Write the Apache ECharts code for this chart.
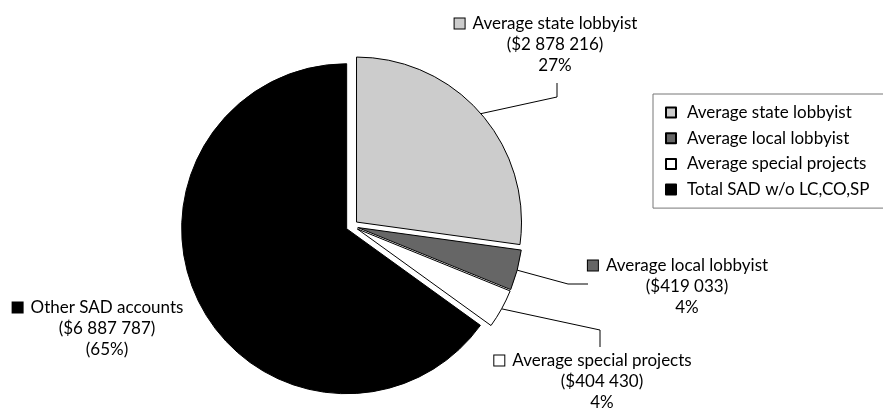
<!DOCTYPE html>
<html>
<head>
<meta charset="utf-8">
<script src="https://cdn.jsdelivr.net/npm/echarts@6/dist/echarts.min.js"></script>
<style>
  html, body { margin: 0; padding: 0; background: #fff; }
  #chart { width: 883px; height: 409px; }
</style>
</head>
<body>
<div id="chart"></div>
<script>
// slice data
const names = ["Average state lobbyist", "Average local lobbyist", "Average special projects", "Total SAD w/o LC,CO,SP"];
const labelNames = ["Average state lobbyist", "Average local lobbyist", "Average special projects", "Other SAD accounts"];
const values = [2878216, 419033, 404430, 6887787];
const colors = ["#cccccc", "#666666", "#ffffff", "#000000"];
const pctInParens = [false, false, false, true];

// layout of the pie and where each label block sits (centre x, top y, line bends)
const pieCenter = [352, 226];
const pieRadius = 165;
const explode = 6;
const labelPos = [
  { x: 555, y: 13, line: [[557, 97], [557, 83]] },
  { x: 687, y: 255, line: [[568, 284], [588, 284]] },
  { x: 602, y: 350, line: [[600, 330], [600, 347]] },
  { x: 107, y: 297, line: null },
];

const total = values.reduce((a, b) => a + b, 0);
const money = (v) => "$" + v.toString().replace(/\B(?=(\d{3})+(?!\d))/g, " ");
const FONT = "Lato";

const rich = {
  t: { fontFamily: FONT, fontSize: 17, color: "#000", lineHeight: 21 },
  gap: { width: 8 },
  pad: { width: 10 },
};
colors.forEach((c, i) => {
  rich["sq" + i] = { width: 10, height: 10, backgroundColor: c, borderColor: "#000", borderWidth: 1 };
});

function midDir(i) {
  let cum = 0;
  for (let k = 0; k < i; k++) cum += values[k];
  const th = ((cum + values[i] / 2) / total) * Math.PI * 2;
  return [Math.sin(th), -Math.cos(th)];
}

const chart = echarts.init(document.getElementById("chart"));
chart.setOption({
  animation: false,
  backgroundColor: "#fff",
  legend: {
    orient: "vertical",
    left: 653,
    top: 94,
    padding: [10, 80, 10, 12],
    itemWidth: 10,
    itemHeight: 10,
    itemGap: 8.7,
    borderColor: "#777",
    borderWidth: 1,
    icon: "rect",
    data: names,
    textStyle: { fontFamily: FONT, fontSize: 17, color: "#000", lineHeight: 16, padding: [0, 0, 0, 6] },
    selectedMode: false,
  },
  series: [
    // exploded slices
    {
      type: "pie",
      center: pieCenter,
      radius: pieRadius,
      startAngle: 90,
      clockwise: true,
      selectedMode: "multiple",
      selectedOffset: explode,
      emphasis: { disabled: true },
      itemStyle: { borderColor: "#000", borderWidth: 1 },
      label: { show: false },
      labelLine: { show: false },
      data: names.map((n, i) => ({
        name: n,
        value: values[i],
        selected: true,
        itemStyle: { color: colors[i] },
      })),
    },
    // same data, invisible slices, carries the labels and leader lines
    {
      type: "pie",
      center: pieCenter,
      radius: pieRadius,
      startAngle: 90,
      clockwise: true,
      silent: true,
      selectedMode: false,
      avoidLabelOverlap: false,
      emphasis: { disabled: true },
      itemStyle: { color: "rgba(0,0,0,0)", borderWidth: 0 },
      label: {
        show: true,
        position: "outside",
        formatter: (p) => {
          const i = p.dataIndex;
          const pct = Math.round((values[i] / total) * 100) + "%";
          return "{sq" + i + "|}{gap|}{t|" + labelNames[i] + "}{gap|}{pad|}\n{t|(" + money(values[i]) + ")}\n{t|" +
            (pctInParens[i] ? "(" + pct + ")" : pct) + "}";
        },
        rich: rich,
      },
      labelLine: { show: true, lineStyle: { color: "#000", width: 1 } },
      labelLayout: (params) => {
        const i = params.dataIndex;
        const lp = labelPos[i];
        const d = midDir(i);
        const r = pieRadius + explode;
        const res = { x: lp.x, y: lp.y, align: "center", verticalAlign: "top" };
        if (lp.line) {
          res.labelLinePoints = [[pieCenter[0] + d[0] * r, pieCenter[1] + d[1] * r], lp.line[0], lp.line[1]];
        }
        return res;
      },
      data: names.map((n, i) => ({
        name: n,
        value: values[i],
        labelLine: { show: i !== 3 },
      })),
    },
  ],
});
</script>
</body>
</html>
